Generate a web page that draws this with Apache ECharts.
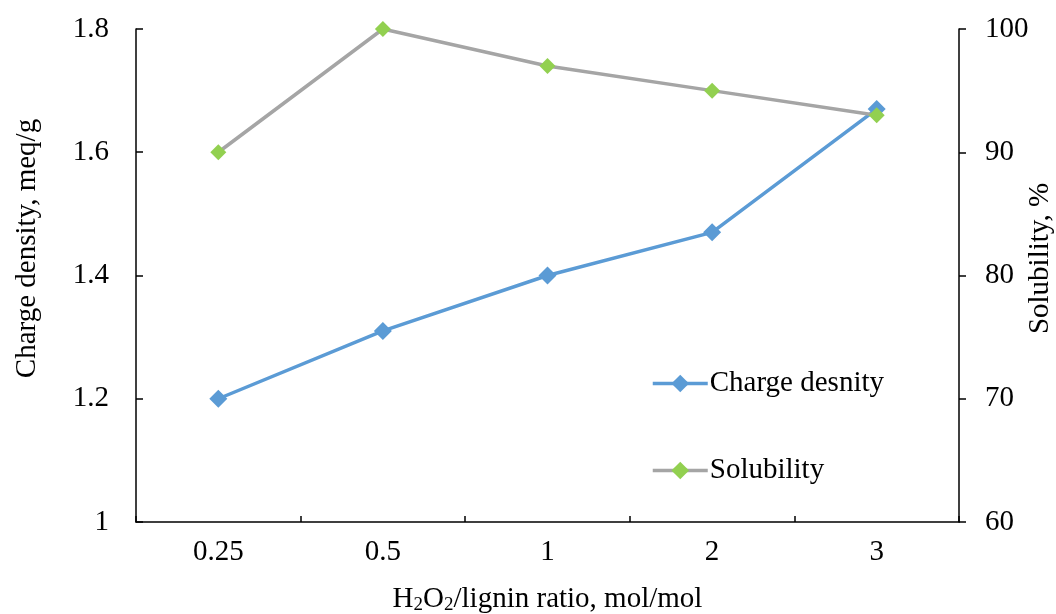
<!DOCTYPE html>
<html>
<head>
<meta charset="utf-8">
<script src="https://cdn.jsdelivr.net/npm/echarts@6/dist/echarts.min.js"></script>
<style>
  html, body { margin: 0; padding: 0; background: #fff; }
  #chart { width: 1056px; height: 614px; }
</style>
</head>
<body>
<div id="chart"></div>
<script>
// H2O2/lignin ratio categories
const ratios = ['0.25', '0.5', '1', '2', '3'];
// Charge density, meq/g
const chargeDensity = [1.20, 1.31, 1.40, 1.47, 1.67];
// Solubility, %
const solubility = [90, 100, 97, 95, 93];

const FONT = '"Liberation Serif", "Times New Roman", serif';
const TXT = { fontFamily: FONT, fontSize: 29, color: '#000' };

const chart = echarts.init(document.getElementById('chart'), null, { renderer: 'canvas' });

chart.setOption({
  backgroundColor: '#fff',
  animation: false,
  grid: { left: 136, right: 97, top: 29, bottom: 92, containLabel: false, outerBoundsMode: 'none' },
  legend: {
    orient: 'vertical',
    left: 646,
    top: 364,
    itemWidth: 55,
    itemHeight: 22,
    itemGap: 58,
    lineStyle: { width: 3.5 },
    textStyle: Object.assign({}, TXT, { padding: [0, 0, 0, -3] }),
    data: ['Charge desnity', 'Solubility']
  },
  xAxis: {
    type: 'category',
    data: ratios,
    boundaryGap: true,
    axisLine: { lineStyle: { color: '#000', width: 1.5 } },
    axisTick: { show: true, inside: true, length: 6, lineStyle: { color: '#000', width: 1.5 } },
    axisLabel: Object.assign({}, TXT, { margin: 16 }),
    name: 'H{sub|2}O{sub|2}/lignin ratio, mol/mol',
    nameLocation: 'middle',
    nameGap: 62,
    nameMoveOverlap: false,
    nameTextStyle: Object.assign({}, TXT, {
      rich: {
        sub: { fontFamily: FONT, fontSize: 19, color: '#000', padding: [12, 0, 0, 0] }
      }
    })
  },
  yAxis: [
    {
      type: 'value',
      min: 1,
      max: 1.8,
      interval: 0.2,
      position: 'left',
      splitLine: { show: false },
      axisLine: { show: true, lineStyle: { color: '#000', width: 1.5 } },
      axisTick: { show: true, inside: true, length: 7, lineStyle: { color: '#000', width: 1.5 } },
      axisLabel: Object.assign({}, TXT, {
        margin: 27,
        formatter: v => (Math.abs(v - 1) < 1e-9 ? '1' : v.toFixed(1))
      }),
      name: 'Charge density, meq/g',
      nameLocation: 'middle',
      nameRotate: 90,
      nameGap: 94,
      nameMoveOverlap: false,
      nameTextStyle: Object.assign({}, TXT, { padding: [0, 0, 0, 54] })
    },
    {
      type: 'value',
      min: 60,
      max: 100,
      interval: 10,
      position: 'right',
      splitLine: { show: false },
      axisLine: { show: true, lineStyle: { color: '#000', width: 1.5 } },
      axisTick: { show: true, inside: false, length: 7, lineStyle: { color: '#000', width: 1.5 } },
      axisLabel: Object.assign({}, TXT, { margin: 26 }),
      name: 'Solubility, %',
      nameLocation: 'middle',
      nameRotate: 90,
      nameGap: 67,
      nameMoveOverlap: false,
      nameTextStyle: Object.assign({}, TXT, { padding: [0, 0, 0, 34] })
    }
  ],
  series: [
    {
      name: 'Charge desnity',
      type: 'line',
      yAxisIndex: 0,
      data: chargeDensity,
      symbol: 'diamond',
      symbolSize: 18,
      lineStyle: { color: '#5B9BD5', width: 3.5 },
      itemStyle: { color: '#5B9BD5' },
      z: 2
    },
    {
      name: 'Solubility',
      type: 'line',
      yAxisIndex: 1,
      data: solubility,
      symbol: 'diamond',
      symbolSize: 16,
      lineStyle: { color: '#A5A5A5', width: 3.5 },
      itemStyle: { color: '#92D050' },
      z: 3
    }
  ]
});
</script>
</body>
</html>
